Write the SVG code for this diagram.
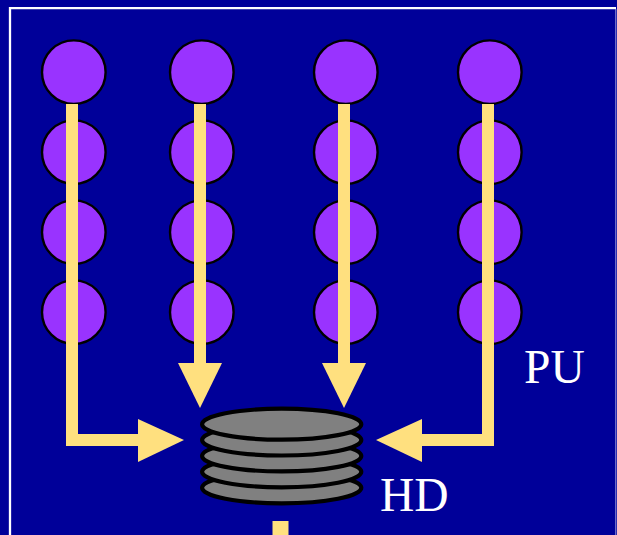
<svg xmlns="http://www.w3.org/2000/svg" width="617" height="535" viewBox="0 0 617 535">
<style>
.pu{fill:#9933ff;stroke:#000;stroke-width:2.4}
.hd{fill:#808080;stroke:#000;stroke-width:4.2}
.bar{fill:none;stroke:#ffe07f;stroke-width:12;stroke-linejoin:miter}
.head{fill:#ffe07f}
.lbl{font-family:"Liberation Serif",serif;font-size:47.5px;fill:#fff}
</style>
<rect width="617" height="535" fill="#000099"/>
<path d="M616 8.2H10V535" fill="none" stroke="#fff" stroke-width="2.3"/>
<path d="M615.8 9V535" fill="none" stroke="#9999dd" stroke-width="1"/>
<g id="pu-col-1"><circle class="pu" cx="73.8" cy="72.2" r="31.8"/><circle class="pu" cx="73.8" cy="152.2" r="31.8"/><circle class="pu" cx="73.8" cy="232.2" r="31.8"/><circle class="pu" cx="73.8" cy="312.2" r="31.8"/></g>
<g id="pu-col-2"><circle class="pu" cx="201.8" cy="72.2" r="31.8"/><circle class="pu" cx="201.8" cy="152.2" r="31.8"/><circle class="pu" cx="201.8" cy="232.2" r="31.8"/><circle class="pu" cx="201.8" cy="312.2" r="31.8"/></g>
<g id="pu-col-3"><circle class="pu" cx="345.8" cy="72.2" r="31.8"/><circle class="pu" cx="345.8" cy="152.2" r="31.8"/><circle class="pu" cx="345.8" cy="232.2" r="31.8"/><circle class="pu" cx="345.8" cy="312.2" r="31.8"/></g>
<g id="pu-col-4"><circle class="pu" cx="489.8" cy="72.2" r="31.8"/><circle class="pu" cx="489.8" cy="152.2" r="31.8"/><circle class="pu" cx="489.8" cy="232.2" r="31.8"/><circle class="pu" cx="489.8" cy="312.2" r="31.8"/></g>
<g id="hd">
<ellipse class="hd" cx="281.7" cy="487.8" rx="79.6" ry="15.5"/>
<ellipse class="hd" cx="281.7" cy="471.8" rx="79.6" ry="15.5"/>
<ellipse class="hd" cx="281.7" cy="455.9" rx="79.6" ry="15.5"/>
<ellipse class="hd" cx="281.7" cy="440" rx="79.6" ry="15.5"/>
<ellipse class="hd" cx="281.7" cy="424.2" rx="79.6" ry="15.5"/>
</g>
<g id="connectors">
<path class="bar" d="M72 104V440H140"/>
<polygon class="head" points="138,419 184,440 138,462"/>
<path class="bar" d="M200 104V365"/>
<polygon class="head" points="178,363 222,363 200,408"/>
<path class="bar" d="M344 104V365"/>
<polygon class="head" points="322,363 366,363 344,408"/>
<path class="bar" d="M488 104V440H420"/>
<polygon class="head" points="422,419 376,440 422,462"/>
<rect class="head" x="272.5" y="521" width="16" height="14"/>
</g>
<text class="lbl" x="524" y="383">PU</text>
<text class="lbl" x="380" y="511">HD</text>
</svg>
